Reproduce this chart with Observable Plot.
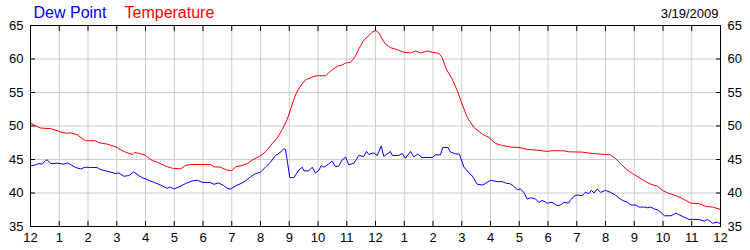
<!DOCTYPE html>
<html>
<head>
<meta charset="utf-8">
<script src="https://cdn.jsdelivr.net/npm/d3@7"></script>
<script src="https://cdn.jsdelivr.net/npm/@observablehq/plot@0.6"></script>
<style>
  html, body { margin: 0; padding: 0; background: #fff; }
</style>
</head>
<body>
<div id="chart"></div>
<script>
// Hours since midnight for the x axis and their labels
const hourTicks = d3.range(0, 25);
const hourLabels = ["12","1","2","3","4","5","6","7","8","9","10","11","12","1","2","3","4","5","6","7","8","9","10","11","12"];
const valueTicks = [35, 40, 45, 50, 55, 60, 65];

const legendLabels = ["Dew Point", "Temperature"];
const dateLabel = "3/19/2009";

// Temperature (°F) readings: hour, value
const tempHours = [0,0.35,0.7,0.93,1.04,1.28,1.39,1.62,1.91,2.26,2.38,2.67,3.02,3.13,3.36,3.54,3.62,3.83,4.0,4.23,4.41,4.7,4.93,5.22,5.39,5.57,6.26,6.38,6.61,6.84,7.0,7.13,7.36,7.54,7.71,7.88,8.06,8.23,8.41,8.58,8.75,8.93,9.04,9.16,9.28,9.43,9.57,9.68,9.86,9.97,10.26,10.49,10.72,10.84,10.96,11.13,11.3,11.42,11.59,11.77,11.88,12.0,12.12,12.23,12.35,12.52,12.75,12.99,13.22,13.39,13.57,13.8,13.97,14.2,14.32,14.46,14.67,14.84,15.01,15.19,15.42,15.71,15.94,16.17,16.41,16.7,16.99,17.28,17.62,17.97,18.09,18.55,18.72,19.19,19.54,20.0,20.17,20.36,20.53,20.71,20.94,21.17,21.35,21.58,21.81,21.98,22.16,22.39,22.56,22.79,22.97,23.26,23.49,23.72,24.0];
const tempValues = [50.4,49.7,49.6,49.3,49.1,48.9,49.0,48.7,47.8,47.8,47.5,47.3,46.8,46.45,46.0,45.75,46.05,45.85,45.6,44.85,44.6,44.0,43.7,43.6,44.1,44.25,44.25,43.9,43.85,43.4,43.35,43.9,44.1,44.4,44.9,45.3,45.7,46.4,47.4,48.2,49.4,51.0,52.4,54.0,55.2,56.2,56.9,57.1,57.4,57.5,57.5,58.4,59.0,59.1,59.4,59.5,60.4,61.5,62.8,63.5,64.0,64.25,63.9,63.0,62.2,61.7,61.4,61.0,60.9,61.2,60.9,61.2,61.0,60.85,60.2,58.5,57.0,55.3,53.3,51.3,49.8,48.8,48.3,47.4,47.1,46.85,46.8,46.5,46.4,46.2,46.3,46.3,46.15,46.1,45.9,45.75,45.7,45.1,44.35,43.6,42.9,42.3,41.8,41.3,41.0,40.4,40.0,39.7,39.4,38.9,38.5,38.4,38.0,37.9,37.55];

// Dew point (°F) readings: hour, value
const dewHours = [0,0.12,0.29,0.41,0.52,0.58,0.7,0.81,0.93,1.16,1.28,1.39,1.57,1.74,1.91,2.09,2.32,2.43,2.67,2.96,3.07,3.25,3.42,3.59,3.77,3.88,4.06,4.17,4.29,4.52,4.75,4.85,4.99,5.16,5.39,5.62,5.8,5.97,6.26,6.38,6.55,6.72,6.84,6.96,7.13,7.36,7.48,7.65,7.83,8.0,8.17,8.35,8.52,8.7,8.81,8.87,9.02,9.16,9.33,9.45,9.51,9.68,9.8,9.91,10.03,10.11,10.2,10.38,10.49,10.61,10.72,10.84,10.96,11.07,11.25,11.42,11.59,11.69,11.77,11.94,12.06,12.2,12.29,12.52,12.58,12.81,12.93,13.04,13.22,13.33,13.47,13.62,13.97,14.09,14.26,14.34,14.52,14.61,14.78,14.92,15.07,15.25,15.36,15.54,15.73,16.0,16.23,16.41,16.52,16.7,16.81,16.93,17.04,17.16,17.28,17.39,17.57,17.68,17.8,17.97,18.14,18.32,18.43,18.55,18.72,18.78,18.9,19.01,19.19,19.3,19.42,19.51,19.6,19.71,19.83,20.0,20.17,20.35,20.42,20.59,20.77,20.89,21.06,21.17,21.35,21.46,21.58,21.7,21.81,21.93,22.05,22.28,22.45,22.56,22.73,22.91,23.26,23.43,23.55,23.72,23.9,24.0];
const dewValues = [44.1,44.1,44.4,44.3,44.85,44.95,44.4,44.4,44.45,44.3,44.5,44.25,43.8,43.6,43.85,43.8,43.8,43.5,43.25,42.9,43.0,42.5,42.6,43.15,42.6,42.3,42.0,41.8,41.6,41.2,40.7,40.9,40.6,40.9,41.4,41.8,41.9,41.6,41.55,41.3,41.5,41.1,40.7,40.6,41.05,41.5,41.8,42.4,42.9,43.1,43.85,44.6,45.6,46.1,46.6,46.5,42.3,42.3,43.4,43.85,43.3,43.3,43.85,43.0,43.35,44.1,43.85,44.35,44.75,43.95,44.0,44.95,45.35,44.2,44.45,45.6,45.45,46.2,45.75,46.0,45.6,47.0,45.45,46.2,45.6,45.6,45.9,45.2,46.2,45.4,45.8,45.3,45.3,45.7,45.7,46.8,46.8,46.1,45.85,45.8,43.9,43.0,42.6,41.3,41.2,41.9,41.7,41.7,41.5,41.35,41.0,40.5,40.6,40.1,39.1,39.3,39.1,38.6,38.9,38.5,38.6,38.1,38.2,38.6,38.5,38.9,39.5,39.7,39.6,40.1,39.9,40.4,40.0,40.6,40.1,40.4,40.1,39.7,39.4,38.9,38.6,38.2,38.2,37.9,37.9,37.8,37.9,37.6,37.5,37.1,36.6,36.6,37.0,36.75,36.4,36.05,36.05,35.8,36.05,35.5,35.65,35.4];

const temperature = tempHours.map((h, i) => ({hour: h, value: tempValues[i]}));
const dewPoint = dewHours.map((h, i) => ({hour: h, value: dewValues[i]}));

const tickFont = "'Liberation Sans', Arial, sans-serif";
const fmtHour = (d) => hourLabels[d];

const chart = Plot.plot({
  width: 750,
  height: 250,
  marginLeft: 30,
  marginRight: 30,
  marginTop: 25,
  marginBottom: 24,
  style: {fontFamily: tickFont, fontSize: "13px", background: "#fff", color: "#000"},
  x: {domain: [0, 24], label: null},
  y: {domain: [35, 65], label: null},
  marks: [
    Plot.gridX(hourTicks, {stroke: "#cccccc", strokeOpacity: 1, strokeWidth: 1}),
    Plot.gridY(valueTicks, {stroke: "#cccccc", strokeOpacity: 1, strokeWidth: 1}),
    // inward tick marks on all four sides
    Plot.axisX(hourTicks, {anchor: "bottom", label: null, tickSize: -5, tickFormat: () => "", stroke: "#000"}),
    Plot.axisX(hourTicks, {anchor: "top", label: null, tickSize: -5, tickFormat: () => "", stroke: "#000"}),
    Plot.axisY(valueTicks, {anchor: "left", label: null, tickSize: -5, tickFormat: () => "", stroke: "#000"}),
    Plot.axisY(valueTicks, {anchor: "right", label: null, tickSize: -5, tickFormat: () => "", stroke: "#000"}),
    // tick labels
    Plot.axisX(hourTicks, {anchor: "bottom", label: null, tickSize: 0, tickPadding: 6, tickFormat: fmtHour, fill: "#000", fontSize: 13}),
    Plot.axisY(valueTicks, {anchor: "left", label: null, tickSize: 0, tickPadding: 7, fill: "#000", fontSize: 13}),
    Plot.axisY(valueTicks, {anchor: "right", label: null, tickSize: 0, tickPadding: 7, fill: "#000", fontSize: 13}),
    Plot.line(dewPoint, {x: "hour", y: "value", stroke: "#0000ff", strokeWidth: 1}),
    Plot.line(temperature, {x: "hour", y: "value", stroke: "#ff0000", strokeWidth: 1}),
    Plot.frame({stroke: "#000", strokeWidth: 1}),
    // legend and date
    Plot.text([legendLabels[0]], {frameAnchor: "top-left", dx: 3, dy: -13, text: d => d, fill: "#0000ff", fontSize: 16, textAnchor: "start", lineAnchor: "middle"}),
    Plot.text([legendLabels[1]], {frameAnchor: "top-left", dx: 94, dy: -13, text: d => d, fill: "#ff0000", fontSize: 16, textAnchor: "start", lineAnchor: "middle"}),
    Plot.text([dateLabel], {frameAnchor: "top-right", dx: -2, dy: -12, text: d => d, fill: "#000", fontSize: 13, textAnchor: "end", lineAnchor: "middle"})
  ]
});

document.getElementById("chart").appendChild(chart);
</script>
</body>
</html>
